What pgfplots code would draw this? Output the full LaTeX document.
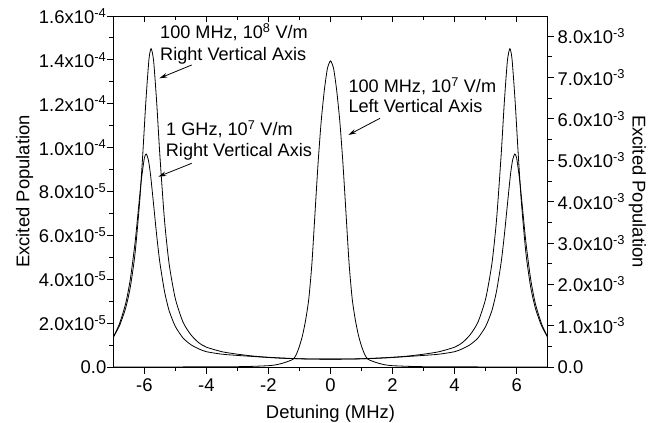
\documentclass[border=0pt]{standalone}
\usepackage{pgfplots}
\usepackage{pgfplotstable}
\pgfplotsset{compat=1.18}
\usetikzlibrary{arrows.meta}
\usepackage{fontspec}
\setmainfont{Liberation Sans}

% 100 MHz, 10^7 V/m  (left axis, units of 1e-5)
\pgfplotstableread{
x y
-7.0 0.002
-6.0 0.003
-5.0 0.004
-4.0 0.007
-3.0 0.015
-2.5 0.03
-2.0 0.06
-1.8 0.09
-1.6 0.15
-1.4 0.24
-1.2 0.36
-1.1 0.58
-1.0 0.95
-0.9 1.45
-0.8 2.15
-0.7 3.1
-0.6 4.7
-0.5 7.0
-0.4 9.3
-0.3 11.2
-0.2 12.6
-0.1 13.6
0.0 13.95
0.1 13.6
0.2 12.6
0.3 11.2
0.4 9.3
0.5 7.0
0.6 4.7
0.7 3.1
0.8 2.15
0.9 1.45
1.0 0.95
1.1 0.58
1.2 0.36
1.4 0.24
1.6 0.15
1.8 0.09
2.0 0.06
2.5 0.03
3.0 0.015
4.0 0.007
5.0 0.004
6.0 0.003
7.0 0.002
}\centerdata

% 100 MHz, 10^8 V/m (right axis, units of 1e-3)
\pgfplotstableread{
x y
-7.0 0.72
-6.8 1.00
-6.6 1.43
-6.45 1.94
-6.3 2.74
-6.15 4.00
-6.05 5.15
-5.95 6.43
-5.85 7.45
-5.78 7.70
-5.7 7.40
-5.6 6.38
-5.5 5.13
-5.35 3.55
-5.2 2.49
-5.0 1.65
-4.75 1.08
-4.5 0.78
-4.25 0.59
-4.0 0.48
-3.5 0.37
-3.0 0.31
-2.5 0.265
-2.0 0.235
-1.5 0.215
-1.0 0.20
-0.5 0.192
0.0 0.19
0.5 0.192
1.0 0.20
1.5 0.215
2.0 0.235
2.5 0.265
3.0 0.31
3.5 0.37
4.0 0.48
4.25 0.59
4.5 0.78
4.75 1.08
5.0 1.65
5.2 2.49
5.35 3.55
5.5 5.13
5.6 6.38
5.7 7.40
5.78 7.70
5.85 7.45
5.95 6.43
6.05 5.15
6.15 4.00
6.3 2.74
6.45 1.94
6.6 1.43
6.8 1.00
7.0 0.72
}\highdata

% 1 GHz, 10^7 V/m (right axis, units of 1e-3)
\pgfplotstableread{
x y
-7.0 0.72
-6.8 1.05
-6.6 1.54
-6.45 2.13
-6.3 3.00
-6.2 3.75
-6.1 4.50
-6.0 5.05
-5.94 5.15
-5.87 5.01
-5.8 4.65
-5.7 3.92
-5.6 3.17
-5.5 2.53
-5.35 1.83
-5.2 1.36
-5.0 0.98
-4.75 0.70
-4.5 0.54
-4.25 0.44
-4.0 0.37
-3.5 0.31
-3.0 0.28
-2.5 0.255
-2.0 0.23
-1.5 0.21
-1.0 0.198
-0.5 0.192
0.0 0.19
0.5 0.192
1.0 0.198
1.5 0.21
2.0 0.23
2.5 0.255
3.0 0.28
3.5 0.31
4.0 0.37
4.25 0.44
4.5 0.54
4.75 0.70
5.0 0.98
5.2 1.36
5.35 1.83
5.5 2.53
5.6 3.17
5.7 3.92
5.8 4.65
5.87 5.01
5.94 5.15
6.0 5.05
6.1 4.50
6.2 3.75
6.3 3.00
6.45 2.13
6.6 1.54
6.8 1.05
7.0 0.72
}\ghzdata

\begin{document}
\begin{tikzpicture}[font=\fontsize{18.5}{22}\selectfont]
\pgfplotsset{
  common/.style={
    width=434.4bp, height=351bp, scale only axis,
    at={(0,0)}, anchor=south west,
    xmin=-7, xmax=7,
    axis line style={line width=0.9bp},
    every tick/.style={black, line width=0.9bp},
    major tick length=6.5bp, minor tick length=4bp,
    tick label style={font=\fontsize{18.5}{22}\selectfont},
    label style={font=\fontsize{18.5}{22}\selectfont},
  }
}
\path[use as bounding box] (-113.3bp,-56bp) rectangle (547.7bp,367bp);

% left axis + bottom ticks
\begin{axis}[common,
  ymin=0, ymax=16,
  tick align=outside,
  xtick pos=left, ytick pos=left,
  xtick={-6,-4,-2,0,2,4,6},
  xticklabels={-6,-4,-2,0,2,4,6},
  xticklabel style={yshift=-2bp},
  yticklabel style={xshift=3bp},
  minor x tick num=1,
  ytick={0,2,4,6,8,10,12,14,16},
  yticklabels={0.0,
    2.0x10\textsuperscript{-5}, 4.0x10\textsuperscript{-5},
    6.0x10\textsuperscript{-5}, 8.0x10\textsuperscript{-5},
    1.0x10\textsuperscript{-4}, 1.2x10\textsuperscript{-4},
    1.4x10\textsuperscript{-4}, 1.6x10\textsuperscript{-4}},
  minor y tick num=1,
  xlabel={Detuning (MHz)},
  ylabel={Excited Population},
  xlabel style={at={(axis description cs:0.5,0)}, anchor=base, yshift=-51bp, inner sep=0pt},
  ylabel style={at={(axis description cs:0,0.5)}, anchor=south, yshift=80bp, inner sep=0pt},
]
\addplot[black, line width=0.8bp, smooth, tension=0.4] table {\centerdata};
\end{axis}

% right axis
\begin{axis}[common,
  ymin=0, ymax=8.49,
  tick align=outside,
  xtick=\empty,
  ytick pos=right, yticklabel pos=right,
  ytick={0,1,2,3,4,5,6,7,8},
  yticklabels={0.0,
    1.0x10\textsuperscript{-3}, 2.0x10\textsuperscript{-3},
    3.0x10\textsuperscript{-3}, 4.0x10\textsuperscript{-3},
    5.0x10\textsuperscript{-3}, 6.0x10\textsuperscript{-3},
    7.0x10\textsuperscript{-3}, 8.0x10\textsuperscript{-3}},
  minor y tick num=1,
  ylabel={Excited Population},
  ylabel style={at={(axis description cs:1,0.5)}, anchor=south, yshift=-81bp, inner sep=0pt, rotate=180},
]
\addplot[black, line width=0.8bp, smooth, tension=0.4] table {\highdata};
\addplot[black, line width=0.8bp, smooth, tension=0.4] table {\ghzdata};
\end{axis}

% top ticks (inward)
\begin{axis}[common,
  ymin=0, ymax=1,
  tick align=inside,
  ytick=\empty,
  xtick pos=right,
  xtick={-6,-4,-2,0,2,4,6},
  xticklabels={},
  minor x tick num=1,
]
\end{axis}

% annotations
\begin{scope}[font=\fontsize{18.2}{22}\selectfont]
\node[anchor=base west, inner sep=0pt] at (46.7bp,328bp) {100 MHz, 10\textsuperscript{8} V/m};
\node[anchor=base west, inner sep=0pt] at (46.7bp,306bp) {Right Vertical Axis};
\draw[line width=0.8bp, -{Stealth[length=8bp,width=4.5bp]}] (78.4bp,302bp) -- (46bp,288.7bp);

\node[anchor=base west, inner sep=0pt] at (52.7bp,231bp) {1 GHz, 10\textsuperscript{7} V/m};
\node[anchor=base west, inner sep=0pt] at (52.4bp,210bp) {Right Vertical Axis};
\draw[line width=0.8bp, -{Stealth[length=8bp,width=4.5bp]}] (78.4bp,203.7bp) -- (45bp,190.3bp);

\node[anchor=base west, inner sep=0pt] at (235bp,274bp) {100 MHz, 10\textsuperscript{7} V/m};
\node[anchor=base west, inner sep=0pt] at (235bp,254bp) {Left Vertical Axis};
\draw[line width=0.8bp, -{Stealth[length=8bp,width=4.5bp]}] (266.7bp,248.7bp) -- (235bp,232bp);
\end{scope}
\end{tikzpicture}
\end{document}
